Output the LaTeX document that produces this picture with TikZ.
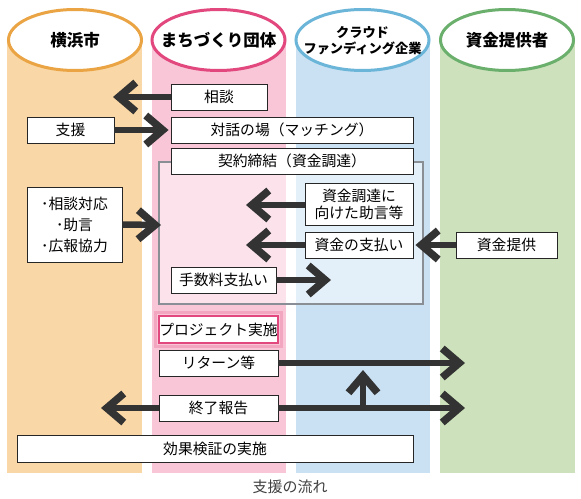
\documentclass[tikz,border=0pt]{standalone}
\usepackage{fontspec}
\setmainfont{Noto Sans CJK JP}
\usetikzlibrary{arrows.meta,shapes.geometric}
\definecolor{colO}{HTML}{FAD7A6}
\definecolor{colOb}{HTML}{EAA444}
\definecolor{colP}{HTML}{F8C6D7}
\definecolor{colPb}{HTML}{E2477D}
\definecolor{colB}{HTML}{CAE1F3}
\definecolor{colBb}{HTML}{6BB5D9}
\definecolor{colG}{HTML}{CDE2BC}
\definecolor{colGb}{HTML}{6AAF6C}
\definecolor{arr}{HTML}{333333}
\definecolor{grayb}{HTML}{8A8F96}
\tikzset{
  hdr/.style={ellipse, fill=white, line width=3pt, minimum width=133pt, minimum height=61pt, inner sep=0pt},
  hdrtext/.style={inner sep=0pt, font=\fontsize{16.5}{18}\selectfont\bfseries, align=center},
  box/.style={rectangle, draw=black!85, fill=white, line width=0.9pt, inner sep=0pt, font=\fontsize{14.8}{17}\selectfont, align=center},
  fat/.style={draw=arr, line width=6.5pt, -{Straight Barb[length=17pt, width=29pt, line width=7.5pt, sharp]}},
}
\begin{document}
\begin{tikzpicture}[x=1pt,y=-1pt]
\useasboundingbox (0,0) rectangle (581,498);
\fill[white] (0,0) rectangle (581,498);
% columns
\fill[colO] (7,40) rectangle (142,473);
\fill[colP] (152,40) rectangle (286,473);
\fill[colB] (296,40) rectangle (430,473);
\fill[colG] (440,40) rectangle (575,473);
% headers
\node[hdr, draw=colOb] (h1) at (75,40) {};
\node[hdr, draw=colPb] (h2) at (218.5,40) {};
\node[hdr, draw=colBb] (h3) at (362.5,40) {};
\node[hdr, draw=colGb] (h4) at (507,40) {};
\node[hdrtext] (t1) at (h1) {横浜市};
\node[hdrtext] (t2) at (h2) {まちづくり団体};
\node[hdrtext, font=\fontsize{13.2}{16}\selectfont\bfseries] (t3) at ([yshift=-1pt]h3) {クラウド\\ファンディング企業};
\node[hdrtext] (t4) at (h4) {資金提供者};
% gray container
\draw[grayb, line width=2pt, fill=white, fill opacity=0.5] (159,162) rectangle (423,304);
% boxes
\node[box, minimum width=96pt, minimum height=26pt] (soudan) at (219,97) {相談};
\node[box, minimum width=87pt, minimum height=26pt] (shien) at (70.5,130) {支援};
\node[box, minimum width=242pt, minimum height=26pt] (taiwa) at (292,130) {対話の場（マッチング）};
\node[box, minimum width=242pt, minimum height=26pt] (keiyaku) at (292,161) {契約締結（資金調達）};
\node[box, minimum width=95pt, minimum height=75pt, font=\fontsize{14.8}{21}\selectfont] (taiou) at (74.5,224.5) {･相談対応\\･助言\\･広報協力};
\node[box, minimum width=108pt, minimum height=42pt, font=\fontsize{14.8}{17}\selectfont] (jogen) at (359,204) {資金調達に\\向けた助言等};
\node[box, minimum width=108pt, minimum height=26pt] (shiharai) at (359,245) {資金の支払い};
\node[box, minimum width=101pt, minimum height=26pt] (teikyo) at (506.5,245) {資金提供};
\node[box, minimum width=105pt, minimum height=26pt] (tesuu) at (223.5,280) {手数料支払い};
\node[box, minimum width=119pt, minimum height=27pt, draw=colPb, line width=2pt] (pj) at (218.5,329.5) {プロジェクト実施};
\draw[colPb, opacity=0.25, line width=3pt] ([xshift=-2.5pt,yshift=2.5pt]pj.north west) rectangle ([xshift=2.5pt,yshift=-2.5pt]pj.south east);
\node[box, minimum width=119pt, minimum height=26pt] (ret) at (218.5,363) {リターン等};
\node[box, minimum width=119pt, minimum height=26pt] (shuryo) at (218.5,408) {終了報告};
\node[box, minimum width=396pt, minimum height=27pt] (kouka) at (215,448.5) {効果検証の実施};
% free ends
\coordinate (e1) at (113,97);
\coordinate (e2) at (161,225);
\coordinate (e3) at (246,205);
\coordinate (e4) at (246,245);
\coordinate (e5) at (331,280);
\coordinate (e6) at (465,363);
\coordinate (e7) at (465,408);
\coordinate (e8) at (101,408);
\coordinate (e9) at (363,408);
\coordinate (e10) at (363,370);
% arrows
\draw[fat] (soudan.west) -- (e1);
\draw[fat] (shien.east) -- ([xshift=-2pt]taiwa.west);
\draw[fat] (taiou.east) -- (e2);
\draw[fat] (jogen.west |- e3) -- (e3);
\draw[fat] (shiharai.west) -- (e4);
\draw[fat] (teikyo.west) -- ([xshift=2pt]shiharai.east);
\draw[fat] (tesuu.east) -- (e5);
\draw[fat] (ret.east) -- (e6);
\draw[fat] (shuryo.east) -- (e7);
\draw[fat] (shuryo.west) -- (e8);
\draw[fat] (e9) -- (e10);
% caption
\node[font=\fontsize{15}{17}\selectfont, text=black!75, inner sep=0pt] (cap) at (290,487) {支援の流れ};
\end{tikzpicture}
\end{document}
